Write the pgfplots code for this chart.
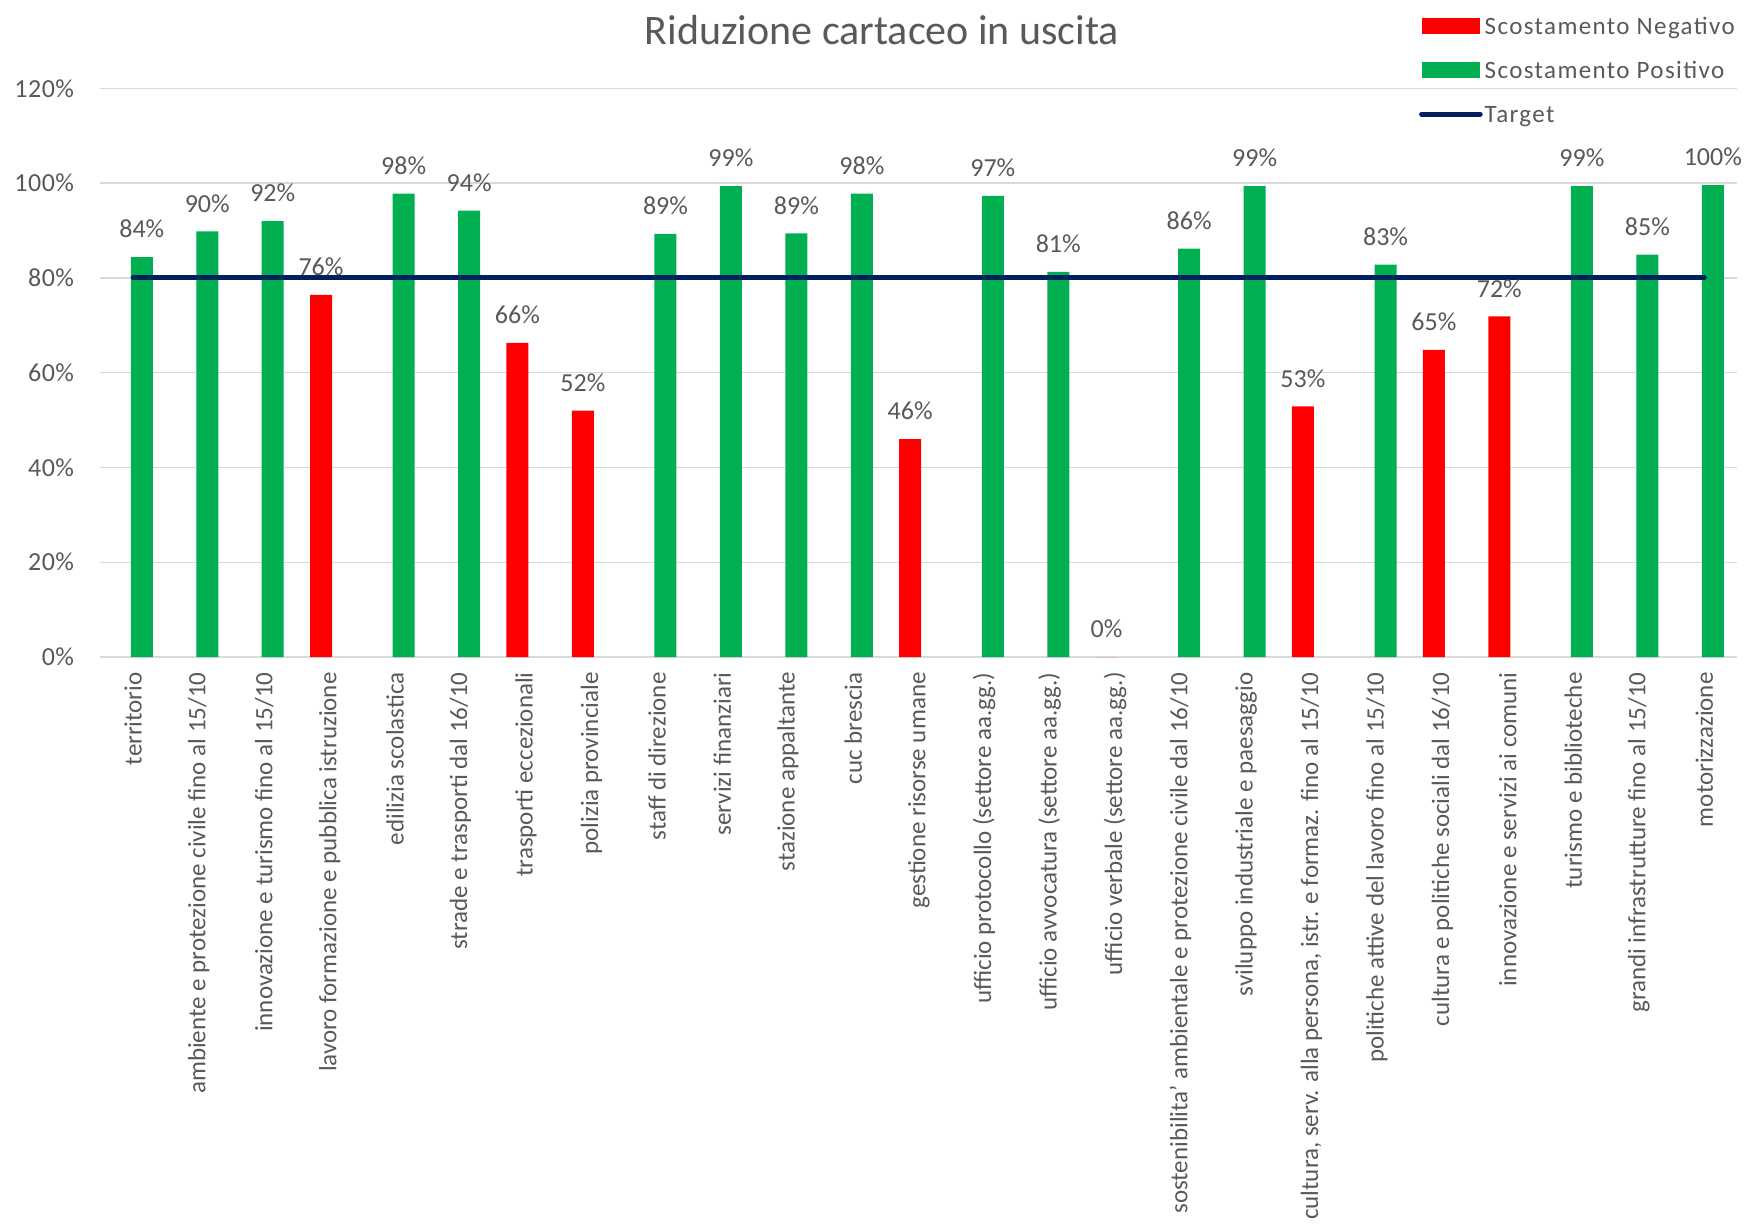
\documentclass[border=0pt]{standalone}
\usepackage{pgfplots}
\pgfplotsset{compat=1.18}
\usepackage{fontspec}
\setmainfont{Carlito}
\definecolor{posgreen}{HTML}{00B050}
\definecolor{negred}{HTML}{FF0000}
\definecolor{navy}{HTML}{002060}
\definecolor{txtgray}{HTML}{595959}
\definecolor{gridgray}{HTML}{D9D9D9}
\pgfplotsset{barlabels/.style={
  nodes near coords={\pgfmathprintnumber[fixed,precision=0]{\pgfplotspointmeta}\%},
  nodes near coords style={font=\fontsize{13}{15}\selectfont, text=txtgray, anchor=center, yshift=14pt}}}
\begin{document}
\begin{tikzpicture}
\begin{axis}[
  scale only axis,
  width=818.25pt, height=284.3pt,
  xmin=-0.5, xmax=24.5, ymin=0, ymax=120,
  clip=false,
  axis line style={draw=none},
  major tick length=0pt,
  ymajorgrids,
  major grid style={color=gridgray, line width=0.7pt},
  ytick={0,20,...,120},
  yticklabel={\pgfmathprintnumber{\tick}\%},
  /pgf/number format/assume math mode=true,
  yticklabel style={font=\fontsize{13}{15}\selectfont\addfontfeature{LetterSpace=2}, text=txtgray, anchor=east, inner sep=0pt, xshift=-13pt},
  xtick={0,...,24},
  xticklabels={territorio,
    ambiente e protezione civile fino al 15/10,
    innovazione e turismo fino al 15/10,
    lavoro formazione e pubblica istruzione,
    edilizia scolastica,
    strade e trasporti dal 16/10,
    trasporti eccezionali,
    polizia provinciale,
    staff di direzione,
    servizi finanziari,
    stazione appaltante,
    cuc brescia,
    gestione risorse umane,
    ufficio protocollo (settore aa.gg.),
    ufficio avvocatura (settore aa.gg.),
    ufficio verbale (settore aa.gg.),
    sostenibilita' ambientale e protezione civile dal 16/10,
    sviluppo industriale e paesaggio,
    {cultura, serv. alla persona, istr. e formaz. fino al 15/10},
    politiche attive del lavoro fino al 15/10,
    cultura e politiche sociali dal 16/10,
    innovazione e servizi ai comuni,
    turismo e biblioteche,
    grandi infrastrutture fino al 15/10,
    motorizzazione},
  xticklabel style={font=\fontsize{12.5}{14}\selectfont, text=txtgray, rotate=90, anchor=east, inner ysep=0pt, inner xsep=7.5pt},
  ybar,
  bar width=0.336,
  legend style={at={(axis description cs:0.8055,1.1245)}, anchor=north west, draw=none, fill=none, inner sep=0pt,
    font=\fontsize{12.5}{14}\selectfont\addfontfeature{LetterSpace=5.5}, text=txtgray, row sep=12pt, column sep=1pt,
    nodes={inner sep=0pt, text height=8pt, text depth=2pt}},
  legend cell align=left,
]
\addplot[fill=negred, draw=none, bar shift=-0.131, barlabels,
  legend image code/.code={\fill[negred] (0pt,-2.6pt) rectangle (29.3pt,5.2pt);}]
  coordinates {(3,76.4) (6,66.3) (7,52.0) (12,46.0) (15,0) (18,52.9) (20,64.8) (21,71.9)};
\addlegendentry{Scostamento Negativo}
\addplot[fill=posgreen, draw=none, bar shift=0.131, barlabels,
  legend image code/.code={\fill[posgreen] (0pt,-2.6pt) rectangle (29.3pt,5.2pt);}]
  coordinates {(0,84.4) (1,89.8) (2,92.0) (4,97.8) (5,94.2) (8,89.3) (9,99.4) (10,89.4)
    (11,97.8) (13,97.3) (14,81.3) (16,86.2) (17,99.4) (19,82.8) (22,99.4) (23,84.9) (24,99.6)};
\addlegendentry{Scostamento Positivo}
\addplot[sharp plot, navy, line width=2.5pt, line cap=round, mark=none,
  legend image code/.code={\draw[navy, line width=2.5pt, line cap=round] (0pt,1.3pt) -- (29.3pt,1.3pt);}]
  coordinates {(0,80) (24,80)};
\addlegendentry{Target}
\end{axis}
\node[font=\fontsize{21}{24}\selectfont, text=txtgray] at (390.75pt,313.5pt) {Riduzione cartaceo in uscita};
\pgfresetboundingbox
\path[use as bounding box] (-50.25pt,-284pt) rectangle (822.75pt,328.5pt);
\end{tikzpicture}
\end{document}
